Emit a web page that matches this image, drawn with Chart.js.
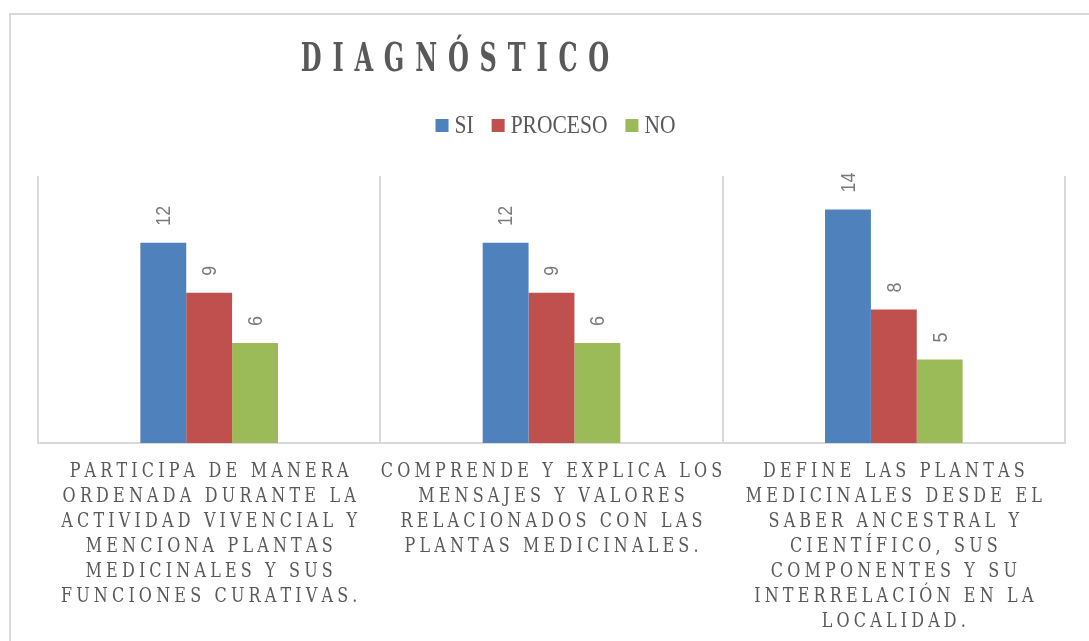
<!DOCTYPE html>
<html>
<head>
<meta charset="utf-8">
<script src="https://cdn.jsdelivr.net/npm/chart.js@4.4.1/dist/chart.umd.min.js"></script>
<style>
  html, body { margin: 0; padding: 0; background: #fff; overflow: hidden; }
  #frame { position: absolute; left: 9px; top: 13px; width: 1200px; height: 800px; border-left: 2px solid #d9d9d9; border-top: 2px solid #d9d9d9; }
  #wrap { position: absolute; left: 0; top: 0; width: 1089px; height: 641px; }
</style>
</head>
<body>
<div id="frame"></div>
<div id="wrap"><canvas id="diagChart"></canvas></div>
<script>
const chartTitle = "DIAGNÓSTICO";
const categories = [
  ["PARTICIPA DE MANERA", "ORDENADA DURANTE LA", "ACTIVIDAD VIVENCIAL Y", "MENCIONA PLANTAS", "MEDICINALES Y SUS", "FUNCIONES CURATIVAS."],
  ["COMPRENDE Y EXPLICA LOS", "MENSAJES Y VALORES", "RELACIONADOS CON LAS", "PLANTAS MEDICINALES."],
  ["DEFINE LAS PLANTAS", "MEDICINALES DESDE EL", "SABER ANCESTRAL Y", "CIENTÍFICO, SUS", "COMPONENTES Y SU", "INTERRELACIÓN EN LA", "LOCALIDAD."]
];
const seriesNames = ["SI", "PROCESO", "NO"];
const siValues = [12, 12, 14];
const procesoValues = [9, 9, 8];
const noValues = [6, 6, 5];
const seriesColors = ["#4F81BD", "#C0504D", "#9BBB59"];

const textColor = "#595959";
const serif = "'Liberation Serif', 'DejaVu Serif', serif";
const heavySerif = "'DejaVu Serif', 'Liberation Serif', serif";

// draws text letter by letter so we get the wide tracking of the original
function spacedText(ctx, text, x, y, font, spacing, squeeze, align) {
  ctx.save();
  ctx.font = font;
  let w = 0;
  for (const ch of text) w += ctx.measureText(ch).width + spacing;
  w -= spacing;
  ctx.translate(x, y);
  ctx.scale(squeeze, 1);
  let cx = align === "center" ? -w / 2 : 0;
  ctx.textAlign = "left";
  for (const ch of text) {
    ctx.fillText(ch, cx, 0);
    cx += ctx.measureText(ch).width + spacing;
  }
  ctx.restore();
  return w * squeeze;
}

function textWidth(ctx, text, font, squeeze) {
  ctx.save();
  ctx.font = font;
  const w = ctx.measureText(text).width * squeeze;
  ctx.restore();
  return w;
}

const textPlugin = {
  id: "textPlugin",
  afterDraw(chart) {
    const ctx = chart.ctx;
    const area = chart.chartArea;
    ctx.fillStyle = textColor;
    ctx.textBaseline = "alphabetic";

    // title
    spacedText(ctx, chartTitle, 455, 71, "bold 40px " + heavySerif, 18, 0.6, "center");

    // legend
    const legFont = "25px " + serif;
    const box = 13, boxGap = 6, itemGap = 18, squeeze = 0.86;
    const items = chart.data.datasets.map(d => ({ text: d.label, color: d.backgroundColor, w: textWidth(ctx, d.label, legFont, squeeze) }));
    let total = items.reduce((s, it) => s + box + boxGap + it.w, 0) + itemGap * (items.length - 1);
    let lx = (area.left + area.right) / 2 + 4 - total / 2;
    items.forEach(it => {
      ctx.fillStyle = it.color;
      ctx.fillRect(lx, 119, box, box);
      lx += box + boxGap;
      ctx.fillStyle = textColor;
      spacedText(ctx, it.text, lx, 133, legFont, 0, squeeze, "left");
      lx += it.w + itemGap;
    });

    // category labels under the axis
    const xScale = chart.scales.x;
    chart.data.labels.forEach((lines, i) => {
      const x = xScale.getPixelForValue(i);
      lines.forEach((line, j) => {
        spacedText(ctx, line, x, area.bottom + 34 + j * 25, "20px " + heavySerif, 5.2, 0.8, "center");
      });
    });

    // value labels, rotated, above each bar
    ctx.fillStyle = "#7a7a7a";
    chart.data.datasets.forEach((ds, di) => {
      const meta = chart.getDatasetMeta(di);
      meta.data.forEach((bar, i) => {
        ctx.save();
        ctx.translate(bar.x, bar.y - 17);
        ctx.rotate(-Math.PI / 2);
        ctx.scale(0.85, 1);
        ctx.font = "21px 'Liberation Sans', Arial, sans-serif";
        ctx.textAlign = "left";
        ctx.textBaseline = "middle";
        ctx.fillText(String(ds.data[i]), 0, 1);
        ctx.restore();
      });
    });
  }
};

const values = [siValues, procesoValues, noValues];

new Chart(document.getElementById("diagChart"), {
  type: "bar",
  data: {
    labels: categories,
    datasets: seriesNames.map((name, k) => ({
      label: name,
      data: values[k],
      backgroundColor: seriesColors[k],
      borderWidth: 0,
      categoryPercentage: 0.402,
      barPercentage: 1.0
    }))
  },
  options: {
    responsive: true,
    maintainAspectRatio: false,
    animation: false,
    layout: { padding: { left: 38, right: 24, top: 176, bottom: 198 } },
    plugins: {
      legend: { display: false },
      title: { display: false },
      tooltip: { enabled: false }
    },
    scales: {
      x: {
        grid: { color: "#d9d9d9", lineWidth: 2, drawTicks: false, offset: true },
        border: { color: "#d9d9d9", width: 2 },
        ticks: { display: false }
      },
      y: { display: false, min: 0, max: 16 }
    }
  },
  plugins: [textPlugin]
});
</script>
</body>
</html>
